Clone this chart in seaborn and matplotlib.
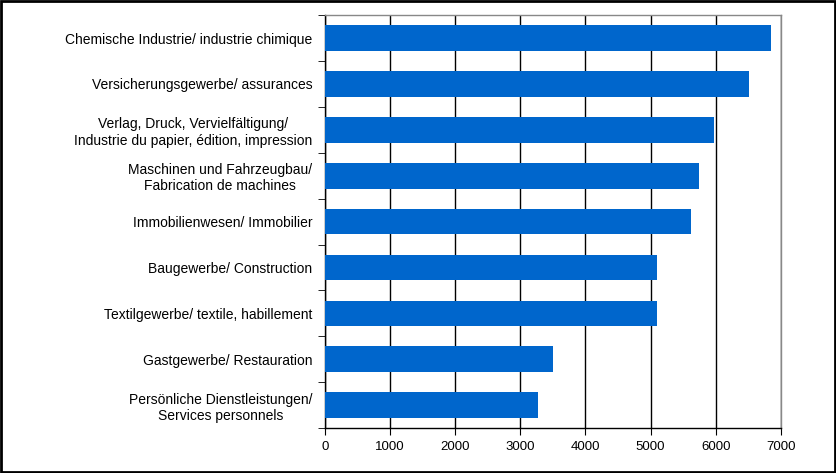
import matplotlib
matplotlib.use("Agg")
import matplotlib.pyplot as plt
import seaborn as sns
import pandas as pd
import numpy as np

sns.set_style("white")
plt.rcParams['font.family'] = ['Liberation Sans', 'DejaVu Sans']
plt.rcParams['text.color'] = 'black'
plt.rcParams['xtick.color'] = 'black'
plt.rcParams['ytick.color'] = 'black'

# branches and values (top to bottom)
branches = [
    "Chemische Industrie/ industrie chimique",
    "Versicherungsgewerbe/ assurances",
    "Verlag, Druck, Vervielfältigung/\nIndustrie du papier, édition, impression",
    "Maschinen und Fahrzeugbau/\nFabrication de machines",
    "Immobilienwesen/ Immobilier",
    "Baugewerbe/ Construction",
    "Textilgewerbe/ textile, habillement",
    "Gastgewerbe/ Restauration",
    "Persönliche Dienstleistungen/\nServices personnels",
]
values = [6850, 6510, 5970, 5740, 5620, 5100, 5100, 3500, 3270]
xticks = [0, 1000, 2000, 3000, 4000, 5000, 6000, 7000]

df = pd.DataFrame({"branche": branches, "wert": values})

fig = plt.figure(figsize=(8.37, 4.73), dpi=100)
ax = fig.add_axes([0.388, 0.095, 0.545, 0.873])

sns.barplot(data=df, x="wert", y="branche", color="#0066CC", saturation=1,
            width=0.56, orient="h", ax=ax, zorder=3, linewidth=0)

ax.set_xlim(0, 7000)
ax.set_ylim(len(branches) - 0.5, -0.5)
ax.set_xticks(xticks)
ax.set_xticklabels([str(t) for t in xticks], fontsize=9.5)
ax.xaxis.grid(True, color="black", linewidth=1, zorder=0)
ax.set_axisbelow(True)
ax.set_xlabel("")
ax.set_ylabel("")
ax.tick_params(axis="y", which="major", length=0, labelsize=10, pad=9, labelcolor="black")
ax.set_yticks(np.arange(-0.5, len(branches), 1), minor=True)
ax.tick_params(axis="y", which="minor", length=5, color="black", direction="out", left=True)
ax.tick_params(axis="x", length=5, color="black", direction="out", bottom=True, pad=4,
               labelcolor="black")
for lbl in ax.get_yticklabels():
    lbl.set_multialignment("center")

for side in ["left", "bottom"]:
    ax.spines[side].set_color("black")
    ax.spines[side].set_linewidth(1)
for side in ["top", "right"]:
    ax.spines[side].set_color("#888888")
    ax.spines[side].set_linewidth(1)

fig.patches.append(plt.Rectangle((0.001, 0.002), 0.997, 0.996, transform=fig.transFigure,
                                 fill=False, edgecolor="black", linewidth=2))

fig.savefig("out.png", dpi=100)
